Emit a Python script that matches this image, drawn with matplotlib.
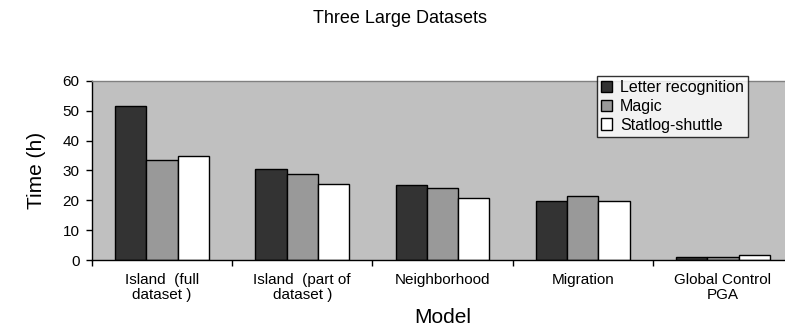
import numpy as np
import matplotlib
matplotlib.use("Agg")
import matplotlib.pyplot as plt

# Running time per parallel model
models = ["Island  (full\ndataset )", "Island  (part of\ndataset )",
          "Neighborhood", "Migration", "Global Control\nPGA"]
letter = [51.6, 30.5, 25.1, 19.8, 1.0]
magic = [33.4, 28.7, 24.2, 21.6, 0.9]
shuttle = [35.0, 25.4, 20.7, 19.8, 1.7]

series = [("Letter recognition", letter, "#333333"),
          ("Magic", magic, "#999999"),
          ("Statlog-shuttle", shuttle, "#ffffff")]

plt.rcParams["font.family"] = ["Liberation Sans", "DejaVu Sans"]

fig = plt.figure(figsize=(7.85, 3.31), dpi=100)
ax = fig.add_axes([0.1172, 0.2145, 0.893, 0.5408])
ax.set_facecolor("#c0c0c0")

x = np.arange(len(models))
w = 0.223
for i, (name, vals, col) in enumerate(series):
    ax.bar(x + (i - 1) * w, vals, w, color=col, edgecolor="black",
           linewidth=1.0, label=name, zorder=2)

ax.set_xlim(-0.5, len(models) - 0.5)
ax.set_ylim(0, 60)
ax.set_yticks(np.arange(0, 61, 10))

# category separators as major ticks, names as minor ticks
ax.set_xticks(np.arange(-0.5, len(models), 1.0))
ax.set_xticklabels([])
ax.set_xticks(x, minor=True)
ax.set_xticklabels(models, minor=True, fontsize=11, linespacing=1.15)
ax.tick_params(axis="x", which="major", direction="out", length=4, width=1)
ax.tick_params(axis="x", which="minor", length=0, pad=9)
ax.tick_params(axis="y", direction="out", length=4, width=1, labelsize=11,
               pad=5)

for s in ["left", "bottom"]:
    ax.spines[s].set_color("black")
    ax.spines[s].set_linewidth(1)
ax.spines["top"].set_color("#808080")
ax.spines["top"].set_linewidth(1)
ax.spines["right"].set_visible(False)

ax.set_ylabel("Time (h)", fontsize=15, labelpad=12)
ax.set_xlabel("Model", fontsize=15, labelpad=4)
fig.text(0.51, 0.945, "Three Large Datasets", ha="center", va="center",
         fontsize=13)

leg = fig.legend(loc="upper left", bbox_to_anchor=(0.7605, 0.7713),
                 fontsize=11.5, frameon=True, fancybox=False, borderpad=0.25,
                 handlelength=0.7, handleheight=0.7, handletextpad=0.5,
                 labelspacing=0.25, borderaxespad=0)
leg.get_frame().set_edgecolor("black")
leg.get_frame().set_linewidth(1)
leg.get_frame().set_facecolor("white")

fig.savefig("out.png", dpi=100)
